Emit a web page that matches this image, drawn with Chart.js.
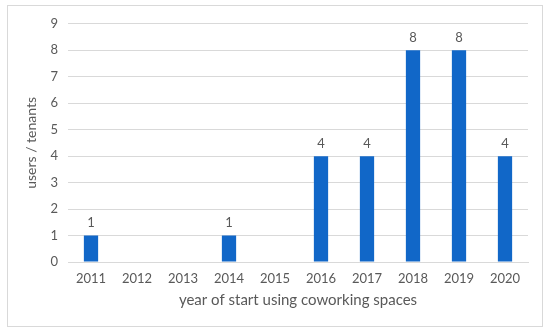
<!DOCTYPE html>
<html>
<head>
<meta charset="utf-8">
<script src="https://cdn.jsdelivr.net/npm/chart.js@4"></script>
<style>
  body { margin: 0; background: #fff; }
  #box { position: absolute; left: 7px; top: 5px; width: 534px; height: 320px; border: 1px solid #d9d9d9; }
</style>
</head>
<body>
<div id="box"><canvas id="chart"></canvas></div>
<script>
const years = ['2011', '2012', '2013', '2014', '2015', '2016', '2017', '2018', '2019', '2020'];
const tenants = [1, 0, 0, 1, 0, 4, 4, 8, 8, 4];
const yTitle = 'users / tenants';
const xTitle = 'year of start using coworking spaces';

const textColor = '#595959';
const fontFamily = 'Lato, "Open Sans", sans-serif';

// value labels above the bars (skip zeros)
const barLabels = {
  id: 'barLabels',
  afterDatasetsDraw(chart) {
    const ctx = chart.ctx;
    const meta = chart.getDatasetMeta(0);
    ctx.save();
    ctx.font = '13px ' + fontFamily;
    ctx.fillStyle = textColor;
    ctx.textAlign = 'center';
    ctx.textBaseline = 'bottom';
    meta.data.forEach((bar, i) => {
      if (!tenants[i]) return;
      ctx.fillText(String(tenants[i]), bar.x, bar.y - 6);
    });
    ctx.restore();
  }
};

new Chart(document.getElementById('chart'), {
  type: 'bar',
  data: {
    labels: years,
    datasets: [{
      data: tenants,
      backgroundColor: '#1167c8',
      barPercentage: 0.62,
      categoryPercentage: 0.5
    }]
  },
  options: {
    responsive: true,
    maintainAspectRatio: false,
    animation: false,
    layout: { padding: { top: 4, right: 14, bottom: 0, left: 0 } },
    plugins: { legend: { display: false }, tooltip: { enabled: false } },
    scales: {
      x: {
        grid: { display: false, drawTicks: false },
        border: { color: '#d9d9d9' },
        ticks: { color: textColor, font: { family: fontFamily, size: 13, lineHeight: 1 }, padding: 10.5 },
        title: { display: true, text: xTitle, color: textColor, font: { family: fontFamily, size: 15, lineHeight: 1 }, padding: { top: -3, bottom: 18 } }
      },
      y: {
        min: 0,
        max: 9,
        grid: { color: '#d9d9d9', drawTicks: false },
        border: { display: false },
        ticks: { stepSize: 1, color: textColor, font: { family: fontFamily, size: 13 }, padding: 10 },
        title: { display: true, text: yTitle, color: textColor, font: { family: fontFamily, size: 14, lineHeight: 1 }, padding: { top: 16, bottom: 0 } },
        afterFit(scale) { scale.width = 60; }
      }
    }
  },
  plugins: [barLabels]
});
</script>
</body>
</html>
